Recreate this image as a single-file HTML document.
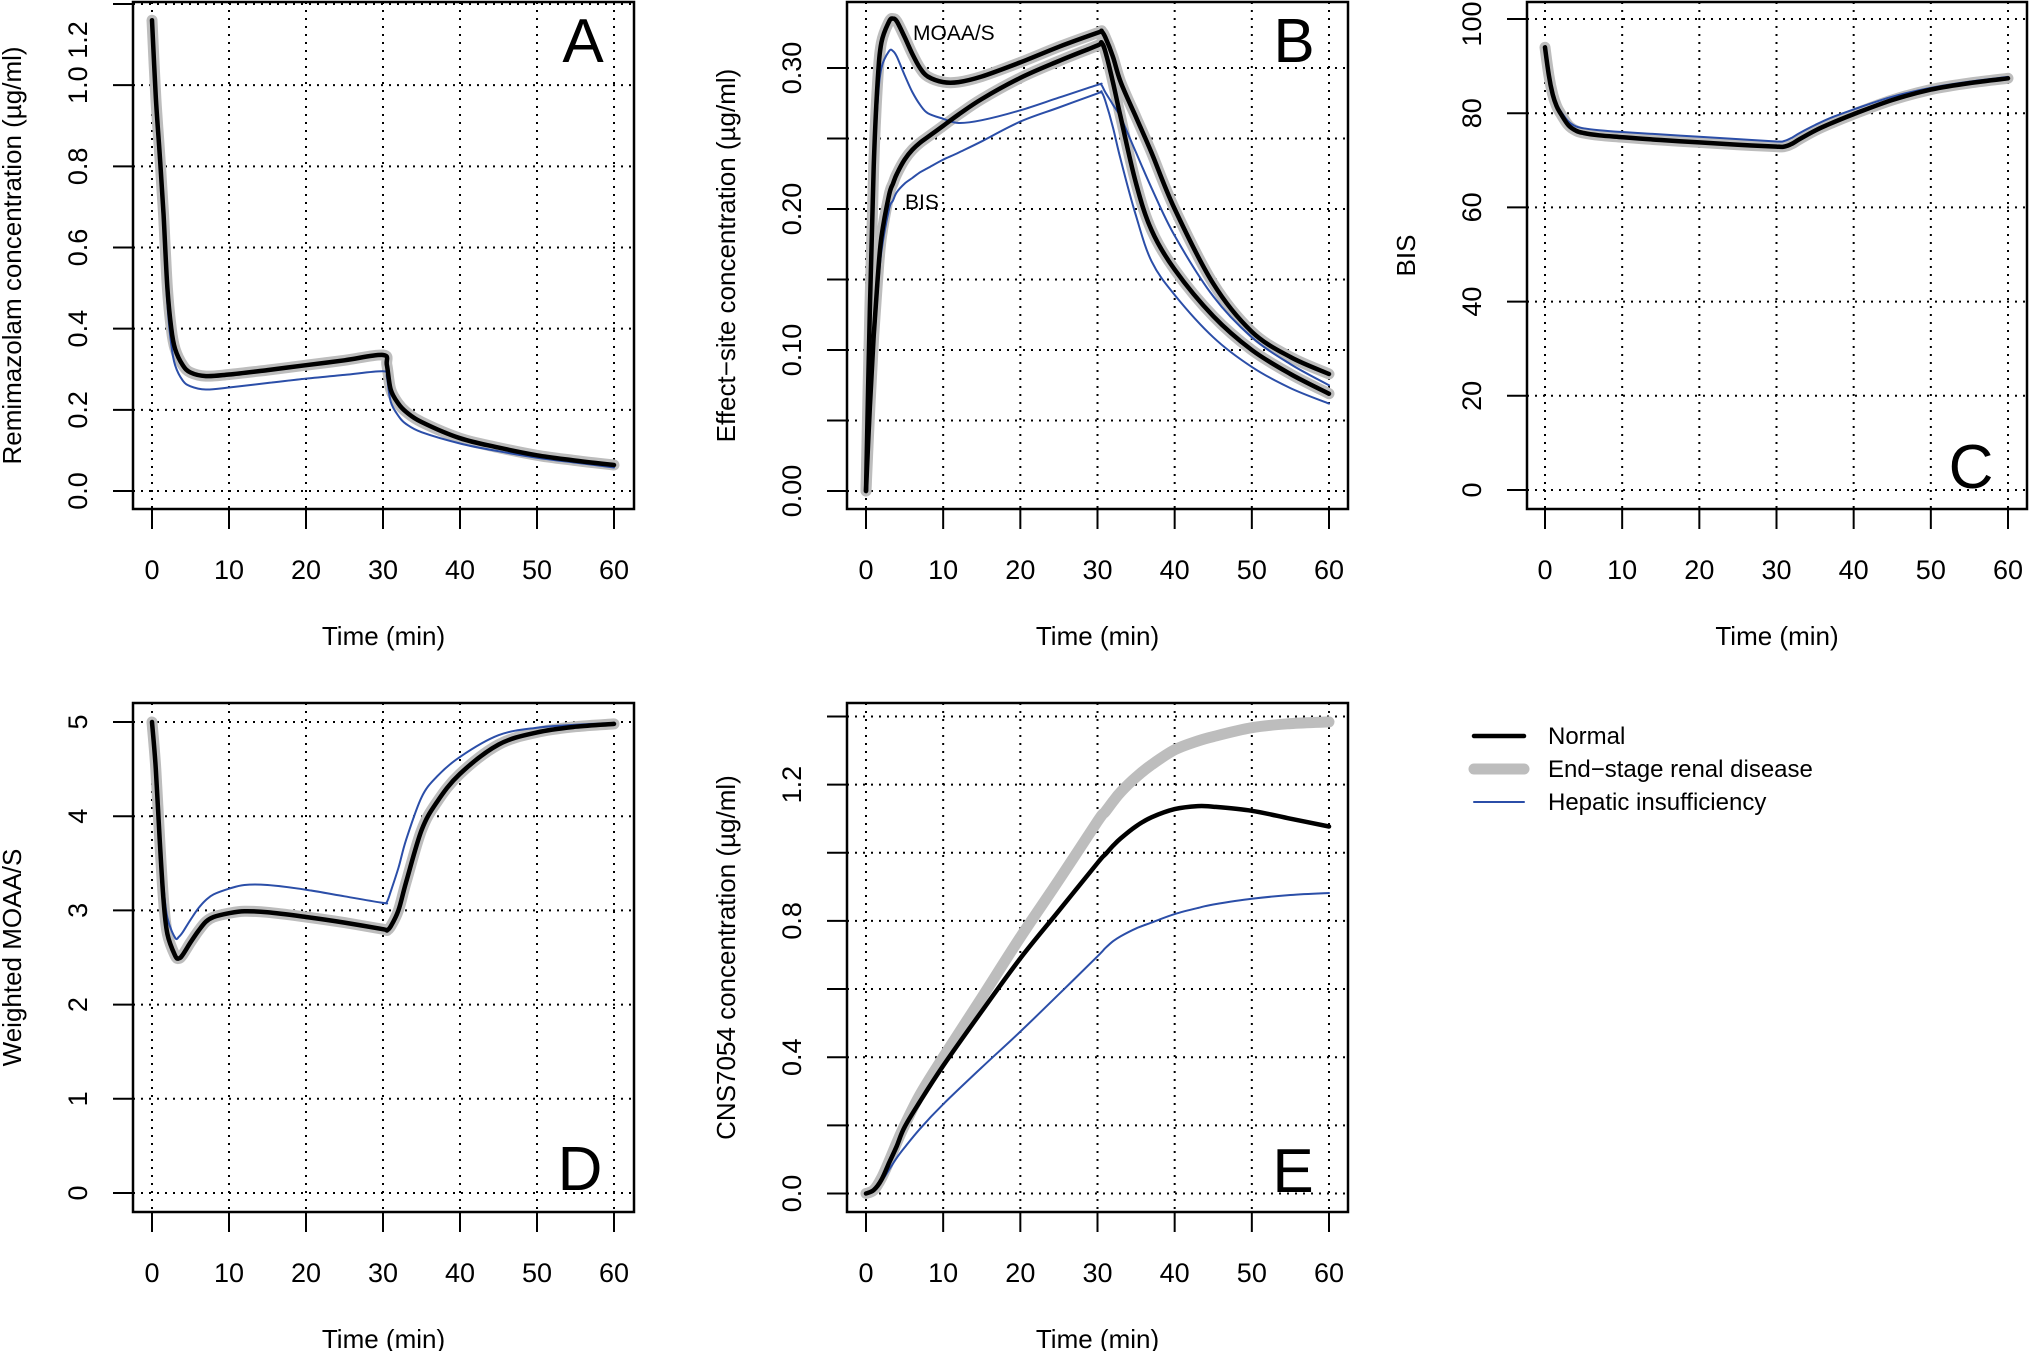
<!DOCTYPE html>
<html><head><meta charset="utf-8"><style>
html,body{margin:0;padding:0;background:#fff;}
svg{display:block;font-family:"Liberation Sans",sans-serif;}
</style></head><body>
<svg id="fig" width="2029" height="1351" viewBox="0 0 2029 1351" xmlns="http://www.w3.org/2000/svg"></svg>
<script>
// ---- shared time grid ----
const tA = [0,0.5,1,1.5,2,2.5,3,4,5,7,10,15,20,25,30,30.5,31,32,33,35,40,45,50,55,60];
const aNormal  = [1.16,0.97,0.83,0.68,0.5,0.4,0.35,0.31,0.292,0.283,0.287,0.298,0.31,0.322,0.335,0.31,0.25,0.215,0.195,0.17,0.13,0.107,0.088,0.075,0.064];
const aEsrd    = [1.16,0.97,0.83,0.68,0.5,0.4,0.35,0.31,0.292,0.283,0.287,0.298,0.31,0.322,0.335,0.31,0.25,0.215,0.195,0.17,0.13,0.107,0.088,0.075,0.064];
const aHepatic = [1.16,0.95,0.8,0.64,0.46,0.36,0.31,0.272,0.258,0.25,0.255,0.266,0.277,0.286,0.295,0.28,0.22,0.185,0.165,0.145,0.117,0.098,0.082,0.07,0.058];

const tB = [0,0.5,1,1.5,2,3,3.5,4,5,6,7,8,10,12,15,20,25,30,30.5,31,32,33,35,37,40,45,50,55,60];
const bMoaaNormal  = [0,0.13,0.23,0.29,0.318,0.333,0.335,0.333,0.322,0.31,0.3,0.294,0.29,0.29,0.294,0.304,0.315,0.325,0.326,0.322,0.308,0.29,0.265,0.24,0.2,0.147,0.113,0.095,0.083];
const bMoaaEsrd    = [0,0.13,0.23,0.29,0.318,0.333,0.335,0.333,0.322,0.31,0.3,0.294,0.29,0.29,0.294,0.304,0.315,0.325,0.326,0.322,0.308,0.29,0.265,0.24,0.2,0.147,0.113,0.095,0.083];
const bMoaaHepatic = [0,0.12,0.22,0.275,0.3,0.312,0.312,0.308,0.295,0.283,0.274,0.268,0.264,0.261,0.263,0.27,0.279,0.288,0.288,0.283,0.274,0.265,0.24,0.215,0.181,0.138,0.109,0.09,0.075];
const bBisNormal   = [0,0.06,0.11,0.15,0.18,0.21,0.218,0.225,0.235,0.242,0.247,0.251,0.259,0.267,0.278,0.293,0.305,0.316,0.318,0.312,0.29,0.265,0.218,0.185,0.157,0.124,0.1,0.083,0.069];
const bBisEsrd     = [0,0.06,0.11,0.15,0.18,0.21,0.218,0.225,0.235,0.242,0.247,0.251,0.259,0.267,0.278,0.293,0.305,0.316,0.318,0.312,0.29,0.265,0.218,0.185,0.157,0.124,0.1,0.083,0.069];
const bBisHepatic  = [0,0.055,0.1,0.14,0.17,0.2,0.206,0.212,0.218,0.222,0.226,0.229,0.235,0.24,0.248,0.262,0.272,0.282,0.283,0.277,0.258,0.235,0.195,0.163,0.139,0.109,0.088,0.073,0.062];

const tC = [0,0.5,1,1.5,2,3,4,5,7,10,15,20,25,30,31,32,33,35,37,40,45,50,55,60];
const cNormal  = [94,88,84,81.5,80,77.5,76.3,75.8,75.3,74.9,74.3,73.8,73.3,72.9,72.9,73.5,74.5,76.3,77.8,79.8,82.8,85,86.4,87.4];
const cEsrd    = [94,88,84,81.5,80,77.5,76.3,75.8,75.3,74.9,74.3,73.8,73.3,72.9,72.9,73.5,74.5,76.3,77.8,79.8,82.8,85,86.4,87.4];
const cHepatic = [94,88.5,84.5,82,80.5,78.3,77.2,76.8,76.4,76,75.5,75,74.5,74,74.1,74.8,75.8,77.5,79,80.8,83.5,85.4,86.7,87.7];

const tD = [0,0.5,1,1.5,2,3,3.5,4,5,6,7,8,10,12,15,20,25,30,30.5,31,32,33,35,37,40,45,50,55,60];
const dNormal  = [5,4.5,3.75,3.1,2.75,2.52,2.49,2.53,2.66,2.78,2.88,2.93,2.97,2.99,2.98,2.93,2.87,2.8,2.79,2.83,3.0,3.3,3.85,4.15,4.45,4.76,4.89,4.95,4.98];
const dEsrd    = [5,4.5,3.75,3.1,2.75,2.52,2.49,2.53,2.66,2.78,2.88,2.93,2.97,2.99,2.98,2.93,2.87,2.8,2.79,2.83,3.0,3.3,3.85,4.15,4.45,4.76,4.89,4.95,4.98];
const dHepatic = [5,4.55,3.85,3.25,2.92,2.71,2.72,2.77,2.9,3.02,3.11,3.17,3.23,3.27,3.27,3.22,3.15,3.08,3.09,3.2,3.45,3.75,4.2,4.42,4.63,4.86,4.94,4.97,4.99];

const tE = [0,1,2,3,4,5,7,10,15,20,25,30,31,32,33,35,37,40,43,45,50,55,60];
const eNormal  = [0,0.01,0.04,0.09,0.14,0.195,0.27,0.375,0.535,0.69,0.83,0.97,0.995,1.02,1.042,1.078,1.104,1.128,1.137,1.135,1.123,1.1,1.077];
const eEsrd    = [0,0.01,0.045,0.095,0.15,0.2,0.29,0.4,0.575,0.752,0.92,1.092,1.12,1.15,1.178,1.222,1.258,1.302,1.328,1.341,1.367,1.379,1.384];
const eHepatic = [0,0.01,0.035,0.07,0.105,0.135,0.19,0.262,0.37,0.475,0.585,0.696,0.72,0.74,0.755,0.778,0.795,0.82,0.838,0.848,0.865,0.876,0.882];

const xTicks = [0,10,20,30,40,50,60];
const yTicksA = [0,0.2,0.4,0.6,0.8,1.0,1.2];
const yLabelsA = ["0.0","0.2","0.4","0.6","0.8","1.0","1.2"];
const yTicksB = [0,0.05,0.1,0.15,0.2,0.25,0.3];
const yLabelsB = ["0.00","","0.10","","0.20","","0.30"];
const yTicksC = [0,20,40,60,80,100];
const yLabelsC = ["0","20","40","60","80","100"];
const yTicksD = [0,1,2,3,4,5];
const yLabelsD = ["0","1","2","3","4","5"];
const yTicksE = [0,0.2,0.4,0.6,0.8,1.0,1.2,1.4];
const yLabelsE = ["0.0","","0.4","","0.8","","1.2",""];

const NS = "http://www.w3.org/2000/svg";
const svg = document.getElementById('fig');
function mk(tag, attrs, parent){
  const e = document.createElementNS(NS, tag);
  for (const k in attrs) e.setAttribute(k, attrs[k]);
  (parent||svg).appendChild(e);
  return e;
}
function linScale(d0,p0,d1,p1){ return v => p0 + (v-d0)*(p1-p0)/(d1-d0); }
function pathFrom(xs, ys, sx, sy){
  const p = xs.map((t,i)=>[sx(t), sy(ys[i])]);
  let d = 'M'+p[0][0].toFixed(1)+' '+p[0][1].toFixed(1);
  for (let i=0;i<p.length-1;i++){
    const p0 = p[Math.max(0,i-1)], p1=p[i], p2=p[i+1], p3=p[Math.min(p.length-1,i+2)];
    const k = 1/6;
    const c1 = [p1[0]+(p2[0]-p0[0])*k, p1[1]+(p2[1]-p0[1])*k];
    const c2 = [p2[0]-(p3[0]-p1[0])*k, p2[1]-(p3[1]-p1[1])*k];
    d += ' C'+c1[0].toFixed(1)+' '+c1[1].toFixed(1)+' '+c2[0].toFixed(1)+' '+c2[1].toFixed(1)+' '+p2[0].toFixed(1)+' '+p2[1].toFixed(1);
  }
  return d;
}

function panel(cfg){
  const g = mk('g', {});
  
  
  const b = cfg.box;
  const sx = linScale(0, cfg.x0, 60, cfg.x60);
  const sy = linScale(0, cfg.y0, cfg.yv, cfg.yvPx);
  xTicks.forEach(t=>{
    const l = mk('line',{x1:sx(t),x2:sx(t),y1:b.t,y2:b.b,stroke:'#000','stroke-width':2,'stroke-dasharray':'2 6'},g);
    
    
  });
  cfg.yTicks.forEach(v=>{
    const l = mk('line',{x1:b.l,x2:b.r,y1:sy(v),y2:sy(v),stroke:'#000','stroke-width':2,'stroke-dasharray':'2 6'},g);
    
    
  });
  cfg.series.forEach(s=>{
    const p = mk('path',{d:pathFrom(s.t, s.v, sx, sy),fill:'none',stroke:s.color,'stroke-width':s.w,'stroke-linecap':'round','stroke-linejoin':'round'},g);
    
    
  });
  const r = mk('rect',{x:b.l,y:b.t,width:b.r-b.l,height:b.b-b.t,fill:'none',stroke:'#000','stroke-width':2.5},g);
  
  
  xTicks.forEach(t=>{
    const l = mk('line',{x1:sx(t),x2:sx(t),y1:b.b,y2:b.b+20,stroke:'#000','stroke-width':2},g);
    
    
    const tx = mk('text',{x:sx(t),y:b.b+70,'font-size':27,'text-anchor':'middle'},g);
    tx.textContent = String(t);
    
    
  });
  const xt = mk('text',{x:(b.l+b.r)/2,y:b.b+136,'font-size':26,'text-anchor':'middle'},g);
  xt.textContent = 'Time (min)';
  
  
  cfg.yTicks.forEach((v,i)=>{
    const l = mk('line',{x1:b.l-20,x2:b.l,y1:sy(v),y2:sy(v),stroke:'#000','stroke-width':2},g);
    
    
    if (cfg.yLabels[i]){
      const x = b.l-46, y = Math.max(sy(v), cfg.labelMinY||0);
      const tx = mk('text',{x:x,y:y,'font-size':27,'text-anchor':'middle',transform:'rotate(-90 '+x+' '+y+')'},g);
      tx.textContent = cfg.yLabels[i];
      
      
    }
  });
  const yx = b.l-112, yy = (b.t+b.b)/2;
  const yt = mk('text',{x:yx,y:yy,'font-size':26,'text-anchor':'middle',transform:'rotate(-90 '+yx+' '+yy+')'},g);
  yt.textContent = cfg.ytitle;
  
  
  const lt = mk('text',{x:cfg.letter[0],y:cfg.letter[1],'font-size':62,'text-anchor':'middle'},g);
  lt.textContent = cfg.id;
  
  
  return {g, sx, sy};
}
const GREY='#bdbdbd', BLUE='#2b4ea8', BLACK='#000';
function trio(t, n, e, h, prefix){
  return [
    {t:t,v:e,color:GREY,w:11,name:prefix+'esrd-line'},
    {t:t,v:h,color:BLUE,w:2,name:prefix+'hepatic-line'},
    {t:t,v:n,color:BLACK,w:4.5,name:prefix+'normal-line'}
  ];
}
panel({id:'A',box:{l:133,t:2,r:634,b:509},x0:152,x60:614,y0:491,yv:1.2,yvPx:4,labelMinY:40,
  yTicks:yTicksA,yLabels:yLabelsA,ytitle:'Remimazolam concentration (\u00b5g/ml)',letter:[583,62],
  series:trio(tA,aNormal,aEsrd,aHepatic,'')});
const pb = panel({id:'B',box:{l:847,t:2,r:1348,b:509},x0:866,x60:1329,y0:491,yv:0.3,yvPx:68,
  yTicks:yTicksB,yLabels:yLabelsB,ytitle:'Effect\u2212site concentration (\u00b5g/ml)',letter:[1294,62],
  series:[].concat(
    [{t:tB,v:bMoaaEsrd,color:GREY,w:11,name:'moaa-esrd-line'},{t:tB,v:bBisEsrd,color:GREY,w:11,name:'bis-esrd-line'}],
    [{t:tB,v:bMoaaHepatic,color:BLUE,w:2,name:'moaa-hepatic-line'},{t:tB,v:bBisHepatic,color:BLUE,w:2,name:'bis-hepatic-line'}],
    [{t:tB,v:bMoaaNormal,color:BLACK,w:4.5,name:'moaa-normal-line'},{t:tB,v:bBisNormal,color:BLACK,w:4.5,name:'bis-normal-line'}])});
const m1 = mk('text',{x:913,y:40,'font-size':21},pb.g); m1.textContent='MOAA/S';


const m2 = mk('text',{x:905,y:209,'font-size':21},pb.g); m2.textContent='BIS';


panel({id:'C',box:{l:1527,t:2,r:2027,b:509},x0:1545,x60:2008,y0:490,yv:100,yvPx:19,labelMinY:24,
  yTicks:yTicksC,yLabels:yLabelsC,ytitle:'BIS',letter:[1971,488],
  series:trio(tC,cNormal,cEsrd,cHepatic,'')});
panel({id:'D',box:{l:133,t:703,r:634,b:1212},x0:152,x60:614,y0:1193,yv:5,yvPx:722,
  yTicks:yTicksD,yLabels:yLabelsD,ytitle:'Weighted MOAA/S',letter:[580,1190],
  series:trio(tD,dNormal,dEsrd,dHepatic,'')});
panel({id:'E',box:{l:847,t:703,r:1348,b:1212},x0:866,x60:1329,y0:1193.5,yv:1.2,yvPx:784.6,
  yTicks:yTicksE,yLabels:yLabelsE,ytitle:'CNS7054 concentration (\u00b5g/ml)',letter:[1293,1192],
  series:trio(tE,eNormal,eEsrd,eHepatic,'')});
const lg = mk('g',{});


const legItems = [['Normal',BLACK,4.5,736],['End\u2212stage renal disease',GREY,11,769],['Hepatic insufficiency',BLUE,2,802]];
legItems.forEach(it=>{
  const l = mk('line',{x1:1474,x2:1524,y1:it[3],y2:it[3],stroke:it[1],'stroke-width':it[2],'stroke-linecap':'round'},lg);
  
  
  const t = mk('text',{x:1548,y:it[3]+8,'font-size':24},lg);
  t.textContent = it[0];
  
  
});
</script>
</body></html>
